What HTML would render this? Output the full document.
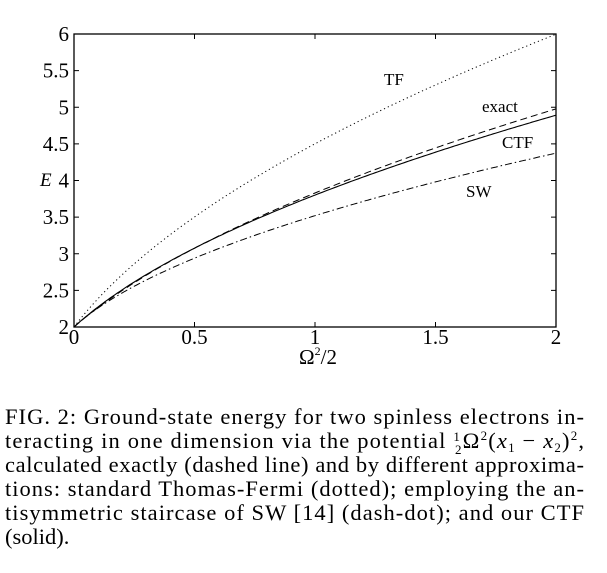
<!DOCTYPE html>
<html><head><meta charset="utf-8"><style>
html,body{margin:0;padding:0;background:#fff;width:607px;height:573px;overflow:hidden}
text{font-family:"Liberation Serif",serif;fill:#000}
</style></head><body>
<svg id="s" width="607" height="573" viewBox="0 0 607 573" xmlns="http://www.w3.org/2000/svg">
<rect x="74" y="34" width="482" height="293" fill="none" stroke="#000" stroke-width="1.3"/>
<g id="ticks" stroke="#000" stroke-width="1"></g>
<g font-size="21" text-anchor="end" id="ylab"></g>
<g font-size="21" text-anchor="middle" id="xlab"></g>
<text x="40" y="186" font-size="19" font-style="italic">E</text>
<text x="299" y="364" font-size="21">Ω<tspan font-size="12" dy="-9">2</tspan><tspan dy="9">/2</tspan></text>
<g id="curves" fill="none" stroke="#000"></g>
<text x="384" y="85" font-size="17">TF</text>
<text x="482" y="112" font-size="17">exact</text>
<text x="502" y="148" font-size="17">CTF</text>
<text x="466" y="197" font-size="17">SW</text>
<g font-size="22.5">
<text x="5" y="424" textLength="579" lengthAdjust="spacing">FIG. 2: Ground-state energy for two spinless electrons in-</text>
<text x="5" y="448" textLength="579" lengthAdjust="spacing">teracting in one dimension via the potential <tspan font-size="13" dy="-7">1</tspan><tspan font-size="13" dx="-6" dy="13">2</tspan><tspan dy="-6">Ω</tspan><tspan font-size="13" dy="-8">2</tspan><tspan dy="8">(</tspan><tspan font-style="italic">x</tspan><tspan font-size="13" dy="4">1</tspan><tspan dy="-4"> − </tspan><tspan font-style="italic">x</tspan><tspan font-size="13" dy="4">2</tspan><tspan dy="-4">)</tspan><tspan font-size="13" dy="-8">2</tspan><tspan dy="8">,</tspan></text>
<text x="5" y="472" textLength="579" lengthAdjust="spacing">calculated exactly (dashed line) and by different approxima-</text>
<text x="5" y="496" textLength="579" lengthAdjust="spacing">tions: standard Thomas-Fermi (dotted); employing the an-</text>
<text x="5" y="520" textLength="579" lengthAdjust="spacing">tisymmetric staircase of SW [14] (dash-dot); and our CTF</text>
<text x="5" y="544">(solid).</text>
</g>
</svg>
<script>
var NS="http://www.w3.org/2000/svg";
function X(v){return 74+v*241}function Y(v){return 327-(v-2)*73.25}
function el(p,t,a){var e=document.createElementNS(NS,t);for(var k in a)e.setAttribute(k,a[k]);document.getElementById(p).appendChild(e);return e}
for(var i=0;i<=8;i++){var v=2+i*0.5,y=Y(v);el("ticks","line",{x1:74,x2:79,y1:y,y2:y});el("ticks","line",{x1:551,x2:556,y1:y,y2:y});
var t=el("ylab","text",{x:69,y:y+7});t.textContent=(v%1?v.toFixed(1):v);}
for(var i=0;i<=4;i++){var v=i*0.5,x=X(v);el("ticks","line",{x1:x,x2:x,y1:327,y2:322});el("ticks","line",{x1:x,x2:x,y1:34,y2:39});
var t=el("xlab","text",{x:x,y:344});t.textContent=(v%1?v.toFixed(1):v);}
function curve(A,c,dash,w){var d="";for(var i=0;i<=200;i++){var x=i/100;var e=2+A*(Math.sqrt(1+c*x)-1);d+=(i?"L":"M")+X(x).toFixed(1)+","+Y(e).toFixed(1)}
var a={d:d,"stroke-width":w};if(dash)a["stroke-dasharray"]=dash;el("curves","path",a)}
curve(1.725,5,"1.2,3",1);
curve(1.598,3.6,"7,4",1);
curve(1.318,4.6,null,1.1);
curve(0.76,8,"7,3,1.5,3",1);
</script>
</body></html>
